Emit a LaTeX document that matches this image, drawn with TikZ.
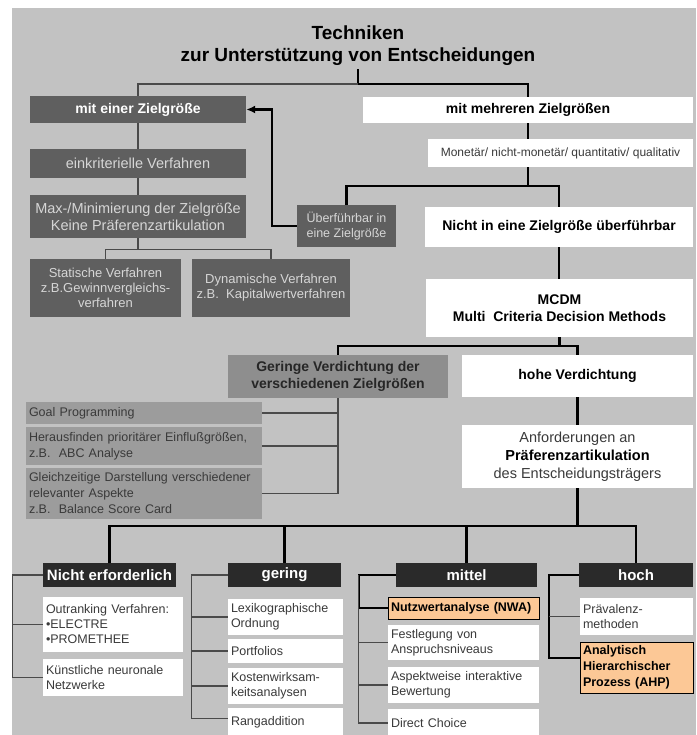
\documentclass[tikz,border=0pt]{standalone}
\usepackage{fontspec}
\setmainfont{Liberation Sans}
\usetikzlibrary{arrows.meta}

\definecolor{bggray}{HTML}{C2C2C2}
\definecolor{boxdark}{HTML}{5F5F5F}
\definecolor{boxgeringe}{HTML}{8E8E8E}
\definecolor{boxmid}{HTML}{9C9C9C}
\definecolor{boxblack}{HTML}{2A2A2A}
\definecolor{nwaorange}{HTML}{FCC896}
\definecolor{txtlight}{HTML}{D6D6D6}
\definecolor{txtdark}{HTML}{3A3A3A}
\definecolor{wiregray}{HTML}{4A4A4A}

\newcommand{\fsz}[2]{\fontsize{#1pt}{#2pt}\selectfont}

\pgfdeclarelayer{bg}
\pgfdeclarelayer{wires}
\pgfsetlayers{bg,wires,main}

\tikzset{
  ttl/.style={font=\bfseries\fsz{19}{22}, text=black, align=center},
  dbox/.style={fill=boxdark, text=txtlight, align=center, inner sep=2pt, font=\fsz{14.5}{17}},
  wbox/.style={fill=white, text=black, align=center, inner sep=2pt, font=\bfseries\fsz{14}{16.5}},
  gbox/.style={fill=boxmid, text=txtdark, align=left, inner xsep=3pt, inner ysep=1pt, font=\fsz{12.5}{16}},
  hbox/.style={fill=boxblack, text=white, inner sep=1pt, font=\bfseries\fsz{15}{17}},
  lbox/.style={fill=white, text=txtdark, align=left, inner xsep=3pt, inner ysep=1pt, font=\fsz{12.5}{15}},
  obox/.style={lbox, fill=nwaorange, draw=black, line width=1pt, text=black, font=\bfseries\fsz{12.5}{16}},
  wh/.style 2 args={minimum width=#1, minimum height=#2},
  thk/.style={line width=2.5pt, draw=black},
  thn/.style={line width=1.2pt, draw=wiregray},
}

\begin{document}
\begin{tikzpicture}[x=1pt, y=-1pt]
  \useasboundingbox (0,0) rectangle (696,735);
  \begin{pgfonlayer}{bg}
    \fill[bggray] (12,8) rectangle (696,735);
  \end{pgfonlayer}

  % title
  \node[ttl] (title) at (358,46) {Techniken\\zur Unterstützung von Entscheidungen};

  % eine Zielgroesse
  \node[dbox, text=white, font=\bfseries\fsz{14}{16.5}, wh={216}{27}] (one) at (138,109.5) {mit einer Zielgröße};
  \node[dbox, wh={216}{29}] (einkrit) at (138,163.5) {einkriterielle Verfahren};
  \node[dbox, wh={216}{43}] (maxmin) at (138,216.5) {Max-/Minimierung der Zielgröße\\Keine Präferenzartikulation};
  \node[dbox, font=\fsz{13}{15}, wh={151}{58}] (statisch) at (105.5,288) {Statische Verfahren\\z.B.Gewinnvergleichs-\\verfahren};
  \node[dbox, font=\fsz{13}{15}, wh={158}{58}] (dynam) at (271,288) {Dynamische Verfahren\\z.B.~~Kapitalwertverfahren};
  \node[dbox, font=\fsz{12.5}{15}, wh={99}{42}] (ueber) at (346.5,226) {Überführbar in\\eine Zielgröße};

  % mehrere Zielgroessen
  \node[wbox, wh={330}{26}] (multi) at (528,110) {mit mehreren Zielgrößen};
  \node[wbox, font=\fsz{12}{14}, text=txtdark, wh={265}{28}] (monetaer) at (560.5,153) {Monetär/ nicht-monetär/ quantitativ/ qualitativ};
  \node[wbox, wh={268}{40}] (nicht) at (559,227) {Nicht in eine Zielgröße überführbar};
  \node[wbox, wh={267}{58}] (mcdm) at (559.5,308) {MCDM\\Multi~~Criteria Decision Methods};
  \node[wbox, fill=boxgeringe, text=black!85, wh={220}{43}] (geringe) at (338,376.5) {Geringe Verdichtung der\\verschiedenen Zielgrößen};
  \node[wbox, wh={231}{42}] (hohe) at (577.5,376) {hohe Verdichtung};
  \node[wbox, font=\fsz{14.5}{18}, text=txtdark, wh={231}{63}] (anford) at (577.5,456.5) {Anforderungen an\\\textcolor{black}{\bfseries Präferenzartikulation}\\des Entscheidungsträgers};

  % geringe Verdichtung
  \node[gbox, text width=230pt, minimum height=22] (goal) at (144,413) {Goal Programming};
  \node[gbox, text width=230pt, minimum height=38] (herausf) at (144,446) {Herausfinden prioritärer Einflußgrößen,\\z.B.~~ABC Analyse};
  \node[gbox, text width=230pt, minimum height=51] (gleichz) at (144,493.5) {Gleichzeitige Darstellung verschiedener\\relevanter Aspekte\\z.B.~~Balance Score Card};

  % Praeferenzartikulation
  \node[hbox, wh={133}{24}] (nerf) at (109.5,575) {Nicht erforderlich};
  \node[hbox, wh={113}{24}] (gering) at (284.5,575) {gering};
  \node[hbox, wh={141}{24}] (mittel) at (466.5,575) {mittel};
  \node[hbox, wh={114}{24}] (hoch) at (636,575) {hoch};

  \node[lbox, text width=134pt, minimum height=55] (outrank) at (113,624.5) {Outranking Verfahren:\\•ELECTRE\\•PROMETHEE};
  \node[lbox, text width=134pt, minimum height=37] (kuenstl) at (113,677.5) {Künstliche neuronale\\Netzwerke};

  \node[lbox, text width=109pt, minimum height=36] (lexiko) at (285.5,617) {Lexikographische\\Ordnung};
  \node[lbox, text width=109pt, minimum height=24] (portf) at (285.5,651) {Portfolios};
  \node[lbox, text width=109pt, minimum height=36] (kosten) at (285.5,686) {Kostenwirksam-\\keitsanalysen};
  \node[lbox, text width=109pt, minimum height=29] (rang) at (285.5,722.5) {Rangaddition};

  \node[obox, text width=145pt, minimum height=22] (nwa) at (463.5,608) {Nutzwertanalyse (NWA)};
  \node[lbox, text width=145pt, minimum height=35] (festl) at (463.5,642.5) {Festlegung von\\Anspruchsniveaus};
  \node[lbox, text width=145pt, minimum height=36] (aspekt) at (463.5,685) {Aspektweise interaktive\\Bewertung};
  \node[lbox, text width=145pt, minimum height=28] (direct) at (463.5,723) {Direct Choice};

  \node[lbox, text width=107pt, minimum height=37] (praev) at (636.5,616.5) {Prävalenz-\\methoden};
  \node[obox, text width=107pt, minimum height=51] (ahp) at (636.5,667.5) {Analytisch\\Hierarchischer\\Prozess (AHP)};

  \begin{pgfonlayer}{wires}
    \coordinate (tbar) at (358,84);
    \draw[thk] (title.south) -- (tbar) -| (multi.north);
    \draw[thn] (tbar) -| (one.north);
    \draw[thn] (one) -- (einkrit);
    \draw[thn] (einkrit) -- (maxmin);
    \draw[thn] (maxmin.south) -- ++(0,11) coordinate (ssplit);
    \draw[thn] (statisch.north) |- (ssplit) -| (dynam.north);

    \draw[thk] (multi.south) -- (multi.south |- monetaer.north);
    \draw[thk] (multi.south |- monetaer.south) -- ++(0,19) coordinate (mbar);
    \draw[thk] (ueber.north) |- (mbar) -| (nicht.north);
    \draw[thk, -{Latex[length=9pt,width=8pt]}] (ueber.west) -- ++(-25,0) |- (one.east);
    \draw[thk] (nicht.south) -- (nicht.south |- mcdm.north);
    \draw[thk] (mcdm.south) -- ++(0,9) coordinate (cbar);
    \draw[thk] (geringe.north) |- (cbar) -| (hohe.north);
    \draw[thk] (hohe) -- (anford);

    \draw[thn] (geringe.south) |- (gleichz.east);
    \draw[thn] (goal.east) -- (goal.east -| geringe.south);
    \draw[thn] (herausf.east) -- (herausf.east -| geringe.south);

    \draw[thk] (anford.south) -- ++(0,38) coordinate (abar);
    \draw[thk] (nerf.north) |- (abar) -| (hoch.north);
    \draw[thk] (gering.north) -- (gering.north |- abar);
    \draw[thk] (mittel.north) -- (mittel.north |- abar);

    \draw[thn] (nerf.west) -- ++(-30,0) coordinate (nc) |- (kuenstl.west);
    \draw[thn] (outrank.west) -- (outrank.west -| nc);

    \draw[thn] (gering.west) -- ++(-36,0) coordinate (gc) |- ([yshift=4pt]rang.west);
    \draw[thn] (lexiko.west) -- (lexiko.west -| gc);
    \draw[thn] (portf.west) -- (portf.west -| gc);
    \draw[thn] (kosten.west) -- (kosten.west -| gc);

    \draw[thk] (mittel.west) -- ++(-37,0) coordinate (mc) |- (nwa.west);
    \draw[thn] (mc) |- (direct.west);
    \draw[thn] (festl.west) -- (festl.west -| mc);
    \draw[thn] (aspekt.west) -- (aspekt.west -| mc);

    \draw[thk] (hoch.west) -- ++(-30,0) coordinate (hc) |- ([yshift=9.5pt]ahp.west);
    \draw[thn] (praev.west) -- (praev.west -| hc);
  \end{pgfonlayer}
\end{tikzpicture}
\end{document}
